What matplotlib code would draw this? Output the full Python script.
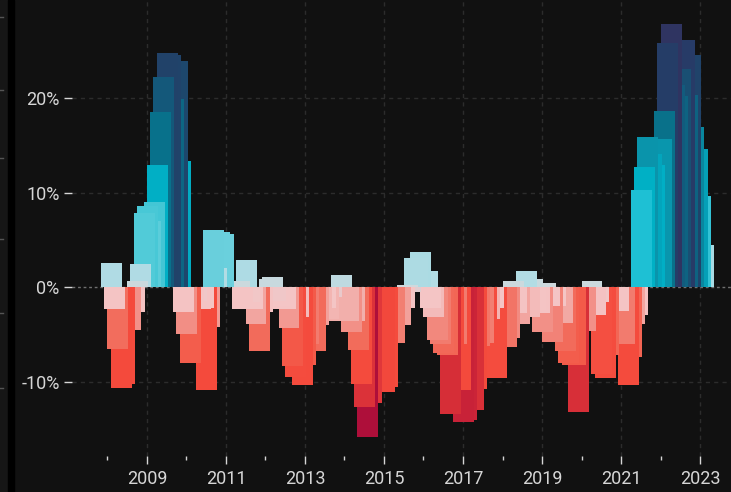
import matplotlib
matplotlib.use("Agg")

import matplotlib.dates as mdates
import matplotlib.pyplot as plt
import pandas as pd
from matplotlib.colors import LinearSegmentedColormap
from matplotlib.lines import Line2D
from matplotlib.patches import Rectangle
from matplotlib.ticker import FixedLocator, FuncFormatter

# monthly values (%), first bar starts Nov 2007
start_month = "2007-11-01"
values = [
    2.5, -2.3, -6.6, -10.7, -10.3, -4.5, -4.5, -2.6, 0.6, 2.4,
    7.8, 8.6, 7.0, 9.0, 12.9, 18.5, 22.2, 24.8, 24.6, 19.9,
    23.9, 13.3, -2.6, -5.0, -8.0, -2.3, -1.5, -2.3, -2.2, -10.9,
    -4.2, 6.0, 2.0, 5.8, 5.6, 0.6, 0.6, 0.6, 0.6, 0.6,
    -2.3, 2.9, -1.6, -2.3, -3.9, -6.8, -2.6, -1.5, 0.85, 1.05,
    -1.5, -2.0, -2.3, -2.3, -4.3, -8.4, -9.5, -3.2, -10.4, -8.3,
    -6.0, -6.8, -6.8, -4.0, -3.4, -2.2, -3.4, -1.1, -3.6, -3.6,
    1.3, -3.6, -3.6, -4.8, -3.6, -6.7, -10.3, -12.7, -15.9, -12.3,
    -11.1, -11.1, -11.1, -11.1, -10.6, -5.9, -5.9, -4.0, -4.0, -2.2,
    0.2, -0.5, 3.1, 3.1, 3.7, 1.7, 1.7, -2.2, -3.2, -5.6,
    -6.0, -7.0, -7.2, -13.4, -10.9, -6.0, -10.9, -14.3, -14.1, -13.0,
    -13.0, -10.8, -6.2, -5.9, -9.6, -3.4, -2.2, -9.6, -6.3, -6.3,
    -6.3, -5.4, 0.6, -2.8, -3.9, -3.2, 1.7, -3.2, 0.8, -2.4,
    -2.8, -4.8, 0.4, -2.0, -5.8, -2.0, -3.8, -3.8, -6.8, -8.0,
    -8.3, -8.3, -13.2, -4.7, -4.7, -3.0, 0.6, -3.0, -1.6, -9.2,
    -9.6, -7.2, -2.5, -2.5, -2.5, -6.0, -6.0, -10.4, -7.4, -3.9,
    -3.0, 10.3, 12.7, 15.9, 14.1, 12.9, 15.7, 15.7, 18.6, 25.8,
    27.8, 21.4, 20.2, 23.1, 26.1, 20.3, 24.5, 16.9, 14.6, 9.6,
    4.4,
]
y_ticks = [-10, 0, 10, 20]
label_years = list(range(2009, 2024, 2))
minor_years = list(range(2008, 2023, 2))

pos_anchors = [
    (0.0, "#d0d8dc"), (1.0, "#c6d9de"), (1.5, "#b3dce4"), (4.5, "#a8dae3"),
    (5.2, "#72d1de"), (7.5, "#55ccd9"), (9.0, "#43c6d5"), (10.3, "#1ec0d4"),
    (12.5, "#00b2c7"), (14.0, "#03a6bd"), (16.0, "#0a93aa"), (18.5, "#08728b"),
    (20.5, "#0f6080"), (22.5, "#155679"), (24.0, "#1d466b"), (26.0, "#263c67"),
    (28.0, "#2f3461"),
]
neg_anchors = [
    (0.0, "#d8d0d3"), (1.0, "#e8c9cb"), (1.8, "#f4c6c6"), (3.0, "#f4c2c2"),
    (3.6, "#f2aeaa"), (4.5, "#f2928a"), (5.5, "#f28a80"), (6.5, "#f26e5e"),
    (8.0, "#f35d4c"), (9.5, "#f44c3e"), (11.0, "#f44a3c"), (12.5, "#dd343a"),
    (13.5, "#d52d37"), (14.5, "#c51f38"), (16.0, "#ad0e3a"),
]

BG = "#111111"
TEXT = "#d6d6d6"


def build_cmap(anchors):
    top = anchors[-1][0]
    return LinearSegmentedColormap.from_list(
        "c", [(a / top, c) for a, c in anchors]
    ), top


pos_cmap, pos_top = build_cmap(pos_anchors)
neg_cmap, neg_top = build_cmap(neg_anchors)


def bar_color(v):
    if v >= 0:
        return pos_cmap(min(v / pos_top, 1.0))
    return neg_cmap(min(-v / neg_top, 1.0))


dates = pd.date_range(start_month, periods=len(values), freq="MS")
colors = [bar_color(v) for v in values]

plt.rcParams["font.family"] = ["Roboto", "DejaVu Sans"]
fig = plt.figure(figsize=(7.31, 4.92), dpi=100, facecolor=BG)
ax = fig.add_axes([72 / 731, 36 / 492, 1 - 72 / 731, 456 / 492])
ax.set_facecolor(BG)

# earlier months sit on top of later ones, so draw the series back to front
ax.bar(
    dates[::-1],
    values[::-1],
    width=194,
    align="edge",
    color=colors[::-1],
    linewidth=0,
    zorder=2,
)

ax.axhline(0, color="#707070", linewidth=1, linestyle=(0, (2, 2)), zorder=1)
ax.set_ylim(-17.88, 30.37)
ax.set_xlim(pd.Timestamp("2007-02-08"), pd.Timestamp("2023-10-14"))

ax.yaxis.set_major_locator(FixedLocator(y_ticks))
ax.yaxis.set_major_formatter(FuncFormatter(lambda v, _: f"{v:.0f}%"))
ax.xaxis.set_major_locator(
    FixedLocator([mdates.date2num(pd.Timestamp(f"{y}-01-01")) for y in label_years])
)
ax.xaxis.set_minor_locator(
    FixedLocator([mdates.date2num(pd.Timestamp(f"{y}-01-01")) for y in minor_years])
)
ax.xaxis.set_major_formatter(mdates.DateFormatter("%Y"))

ax.tick_params(axis="y", colors=TEXT, labelsize=13, length=6, width=1, pad=3)
ax.tick_params(axis="x", which="major", colors=TEXT, labelsize=13, length=6,
               width=1, pad=4)
ax.tick_params(axis="x", which="minor", colors=TEXT, length=3, width=1)

for spine in ax.spines.values():
    spine.set_visible(False)

for v in y_ticks:
    if v != 0:
        ax.axhline(v, color="#2c2c2c", linewidth=1, linestyle=(0, (3, 3)), zorder=0)
for y in label_years:
    ax.axvline(pd.Timestamp(f"{y}-01-01"), color="#2c2c2c", linewidth=1,
               linestyle=(0, (3, 3)), zorder=0)

# cut-off neighbour panel on the far left
fig.add_artist(Rectangle((0, 0), 8 / 731, 1, transform=fig.transFigure,
                         color="#161616", zorder=0))
fig.add_artist(Rectangle((8 / 731, 0), 6 / 731, 1, transform=fig.transFigure,
                         color="#000000", zorder=0))
for ypx in [17, 90, 158, 239, 313, 388]:
    yf = 1 - ypx / 492
    fig.add_artist(Line2D([0, 3 / 731], [yf, yf], transform=fig.transFigure,
                          color="#555555", linewidth=1))

fig.savefig("out.png", dpi=100, facecolor=BG)
plt.close(fig)
